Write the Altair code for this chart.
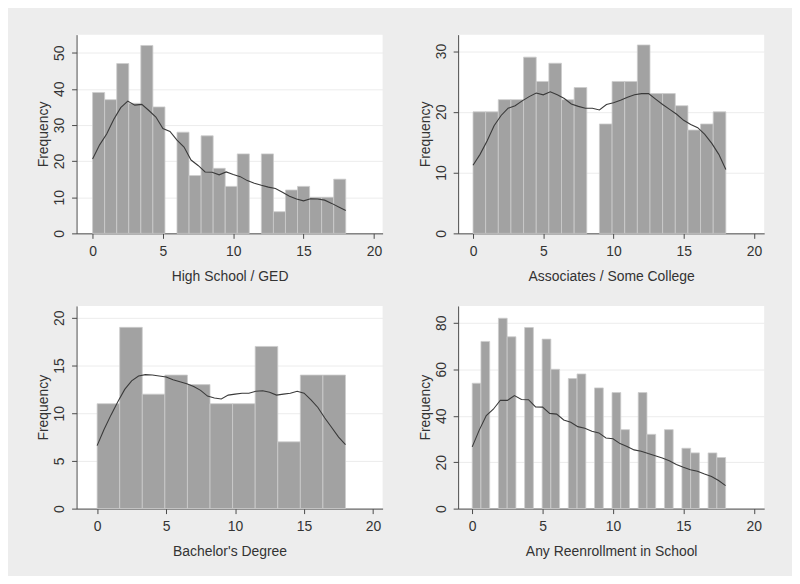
import altair as alt
import pandas as pd

# ---------------- data ----------------
x_lo, x_hi = 0, 18
x_ticks = [0, 5, 10, 15, 20]

titles = ["High School / GED", "Associates / Some College",
          "Bachelor's Degree", "Any Reenrollment in School"]

# histogram counts per bin (equal-width bins spanning 0..18)
hs_counts = [39, 37, 47, 36, 52, 35, 0, 28, 16, 27, 18, 13, 22, 0, 22, 6, 12, 13, 10, 10, 15]
as_counts = [20, 20, 22, 22, 29, 25, 28, 22, 24, 0, 18, 25, 25, 31, 23, 23, 21, 17, 18, 20]
ba_counts = [11, 19, 12, 14, 13, 11, 11, 17, 7, 14, 14]
re_counts = [54, 72, 0, 82, 74, 0, 78, 0, 73, 60, 0, 56, 58, 0, 52, 0, 50, 34, 0,
             50, 32, 0, 34, 0, 26, 24, 0, 24, 22]

# kernel density overlay (scaled to frequency), read at these x positions
kd_x = [0, 0.5, 1, 1.5, 2, 2.5, 3, 3.5, 4, 4.5, 5, 5.5, 6, 6.5, 7, 7.5, 8, 8.5, 9,
        9.5, 10, 10.5, 11, 11.5, 12, 12.5, 13, 13.5, 14, 14.5, 15, 15.5, 16, 16.5,
        17, 17.5, 18]
hs_kd = [20.6, 24.5, 27.5, 31.5, 34.8, 36.6, 35.5, 35.7, 34.0, 32.2, 29.0, 28.2, 25.8,
         23.9, 20.3, 18.8, 17.0, 16.9, 16.2, 17.0, 16.3, 15.7, 14.6, 13.9, 13.3, 12.8,
         12.4, 11.4, 10.3, 9.5, 9.0, 9.6, 9.5, 9.2, 8.3, 7.3, 6.3]
as_kd = [11.2, 13.0, 15.2, 17.7, 19.4, 20.6, 21.0, 21.8, 22.5, 23.1, 22.8, 23.3, 22.8,
         22.2, 21.3, 20.9, 20.6, 20.6, 20.3, 21.2, 21.5, 21.9, 22.4, 22.8, 23.0, 23.0,
         22.1, 21.2, 20.4, 19.6, 18.6, 17.9, 17.4, 16.3, 14.8, 13.0, 10.5]
ba_kd = [6.6, 8.3, 9.8, 11.2, 12.5, 13.4, 13.9, 14.05, 14.0, 13.9, 13.8, 13.5, 13.3,
         13.1, 12.8, 12.4, 11.8, 11.6, 11.5, 11.9, 12.0, 12.1, 12.1, 12.3, 12.35, 12.2,
         11.9, 12.0, 12.1, 12.3, 12.1, 11.4, 10.6, 9.5, 8.5, 7.5, 6.7]
re_kd = [26.6, 33.8, 40.1, 42.8, 46.7, 46.6, 48.7, 47.0, 46.9, 43.8, 43.7, 41.0, 40.7,
         38.2, 37.2, 35.3, 34.6, 33.3, 32.6, 30.4, 30.1, 28.0, 26.8, 25.3, 24.7, 23.7,
         22.8, 21.8, 20.6, 19.0, 17.8, 16.7, 16.1, 14.9, 13.8, 12.1, 9.9]

y_ticks = [[0, 10, 20, 30, 40, 50], [0, 10, 20, 30], [0, 5, 10, 15, 20], [0, 20, 40, 60, 80]]
y_max = [55.0, 32.7, 21.25, 87.3]
x_dom = [[-1.14, 20.62], [-1.06, 20.73], [-1.49, 20.69], [-1.0, 20.74]]

FONT = "Liberation Sans"


def panel(counts, kd, title, ymax, yticks, xdom, h):
    n = len(counts)
    w = (x_hi - x_lo) / n
    df = pd.DataFrame({
        "start": [x_lo + i * w for i in range(n)],
        "end": [x_lo + (i + 1) * w for i in range(n)],
        "count": counts,
        "base": [0] * n,
    })
    df = df[df["count"] > 0]
    kdf = pd.DataFrame({"start": kd_x, "count": kd})
    xs = alt.Scale(domain=xdom, nice=False, zero=False)
    ys = alt.Scale(domain=[0, ymax], nice=False, zero=True)
    xa = alt.Axis(values=x_ticks, title=title, grid=False)
    ya = alt.Axis(values=yticks, title="Frequency", grid=True)
    bars = alt.Chart(df).mark_rect(
        color="#a2a2a2", stroke="#cdcdcd", strokeWidth=0.8
    ).encode(
        x=alt.X("start:Q", scale=xs, axis=xa),
        x2="end:Q",
        y=alt.Y("count:Q", scale=ys, axis=ya),
        y2="base:Q",
    )
    line = alt.Chart(kdf).mark_line(color="#3a3a3a", strokeWidth=1.1).encode(
        x=alt.X("start:Q", scale=xs, axis=xa),
        y=alt.Y("count:Q", scale=ys, axis=ya),
    )
    return alt.layer(bars, line).properties(width=308, height=h)


p1 = panel(hs_counts, hs_kd, titles[0], y_max[0], y_ticks[0], x_dom[0], 200)
p2 = panel(as_counts, as_kd, titles[1], y_max[1], y_ticks[1], x_dom[1], 200)
p3 = panel(ba_counts, ba_kd, titles[2], y_max[2], y_ticks[2], x_dom[2], 204)
p4 = panel(re_counts, re_kd, titles[3], y_max[3], y_ticks[3], x_dom[3], 204)

chart = alt.vconcat(
    alt.hconcat(p1, p2, spacing=36),
    alt.hconcat(p3, p4, spacing=36),
    spacing=23,
).configure(
    background="#ededed",
    padding={"left": 28, "top": 25, "right": 28, "bottom": 16},
).configure_view(
    stroke=None, fill="white"
).configure_axis(
    domainColor="#4a4a4a", domainWidth=1,
    tickColor="#4a4a4a", tickSize=5, tickWidth=1,
    labelFont=FONT, labelFontSize=14, labelColor="#333333",
    titleFont=FONT, titleFontSize=14, titleFontWeight="normal", titleColor="#333333",
    gridColor="#ececec", gridWidth=1,
).configure_axisX(
    labelPadding=6, titlePadding=11, labelAngle=0,
).configure_axisY(
    labelAngle=270, labelAlign="center", labelBaseline="alphabetic",
    labelPadding=8, titlePadding=2,
)

chart.save("out.html", embed_options={"renderer": "svg", "actions": False})
